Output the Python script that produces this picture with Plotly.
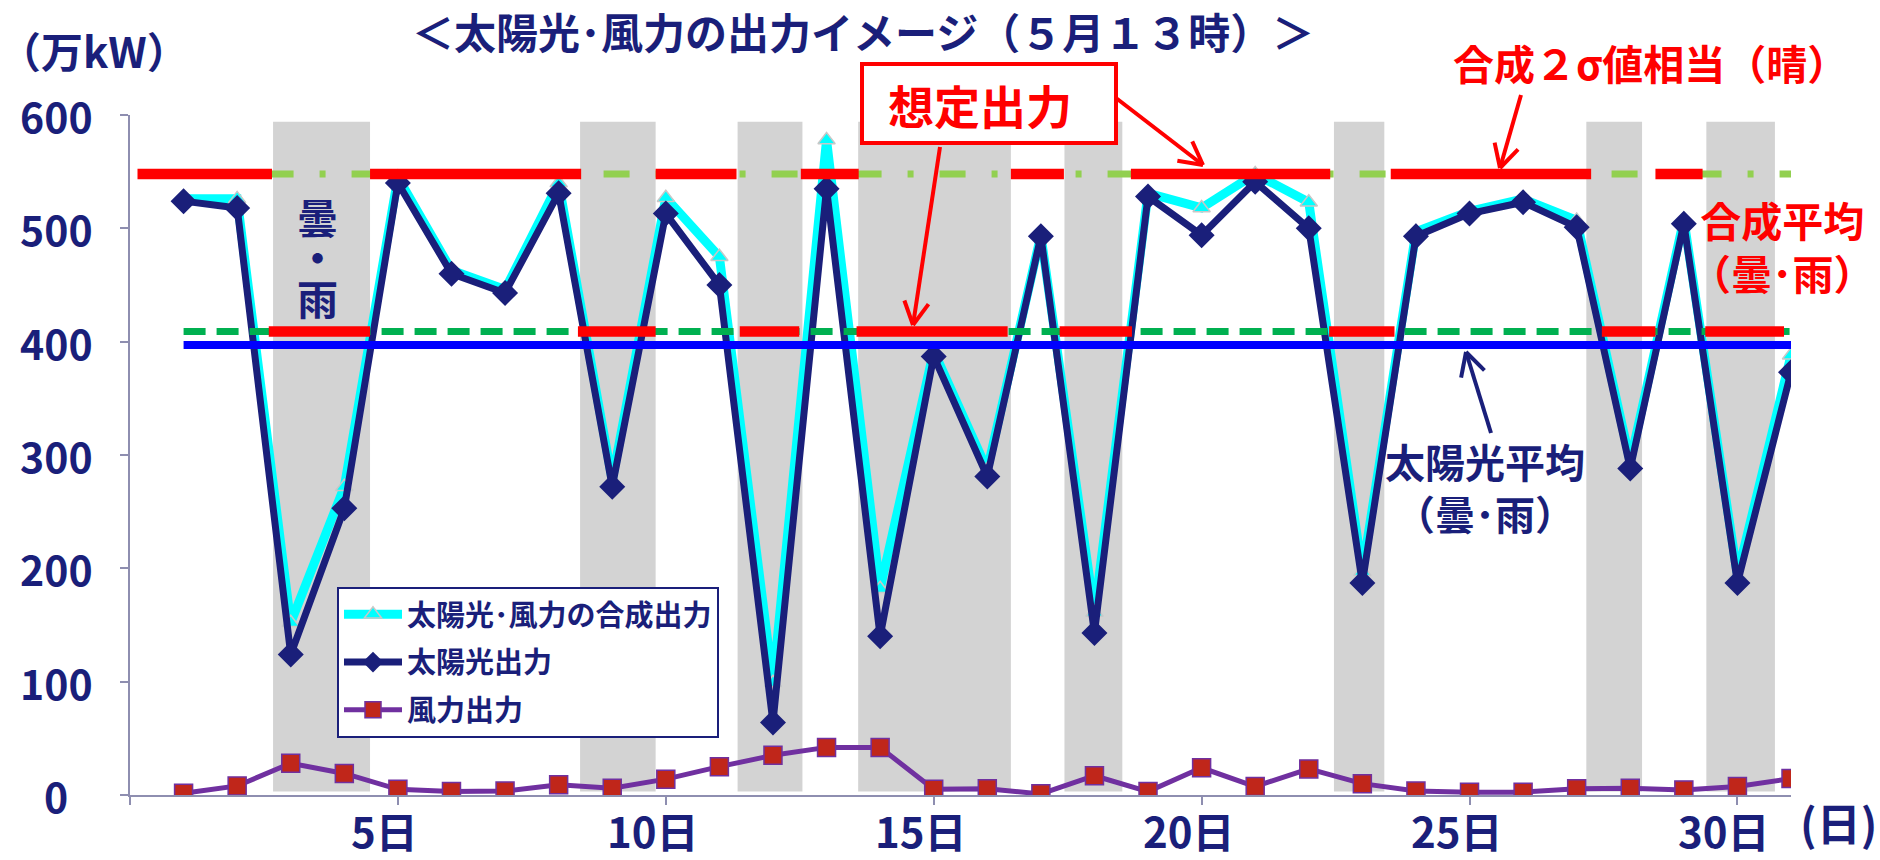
import math
import plotly.graph_objects as go

# ---- data (May, 13:00 output, 万kW) ----
days = list(range(1, 32))
solar = [524, 518, 124, 253, 540, 460, 443, 531, 272, 513, 450, 64, 535, 140, 387, 281,
         493, 143, 528, 494, 541, 500, 187, 493, 513, 523, 501, 288, 504, 187, 373]
wind = [1.5, 8, 28, 19, 5, 3, 3.5, 9, 6, 14, 25, 35, 42, 42, 5, 5.5,
        1, 17, 3, 24, 7.5, 23, 10, 3.5, 2.5, 2.5, 5.5, 6, 4.5, 7.5, 14.5]
combined = [526, 526, 152, 272, 545, 463, 446, 540, 278, 527, 475, 99, 578, 182, 392, 287,
            494, 161, 531, 518, 548, 523, 197, 497, 515, 526, 507, 294, 508, 194, 388]

# reference levels
combined_2sigma = 548      # 合成2σ値相当（晴）
combined_cloudy_avg = 409  # 合成平均（曇・雨）
solar_cloudy_avg = 397     # 太陽光平均（曇・雨）

# cloudy / rainy periods (day positions)
cloudy_bands = [(2.67, 4.48), (8.40, 9.81), (11.34, 12.55), (13.59, 16.44),
                (17.44, 18.52), (22.47, 23.41), (27.18, 28.22), (29.42, 30.70)]
# assumed output: 2σ level on clear spans, cloudy average on cloudy spans
clear_spans = [(0.14, 2.65), (4.48, 8.42), (9.81, 11.32), (12.52, 13.60),
               (16.44, 17.43), (18.68, 22.40), (23.53, 27.27), (28.47, 29.35)]
cloudy_spans = [(2.59, 4.48), (8.36, 9.81), (11.38, 12.49), (13.56, 16.38),
                (17.35, 18.70), (22.38, 23.60), (27.47, 28.47), (29.40, 30.87)]

xtick_vals = [0, 5, 10, 15, 20, 25, 30]
xtick_text = ["", "5日", "10日", "15日", "20日", "25日", "30日"]
ytick_vals = [0, 100, 200, 300, 400, 500, 600]

# ---- styling ----
NAVY = "#1A1F7A"
RED = "#FF0000"
FONT = "Noto Sans CJK JP"
W, H = 1880, 860
L, R, T, B = 130, 89, 115, 65
PW, PH = W - L - R, H - T - B


def px(x):
    return (x - L) / PW


def py(y):
    return (T + PH - y) / PH


def seg_xy(spans, level):
    xs, ys = [], []
    for a, b in spans:
        xs += [a, b, None]
        ys += [level, level, None]
    return xs, ys


fig = go.Figure()

# series
fig.add_trace(go.Scatter(
    x=days, y=wind, mode="lines+markers", name="<b>風力出力</b>",
    line=dict(color="#7030A0", width=5),
    marker=dict(symbol="square", size=18, color="#C0261A", line=dict(color="#7030A0", width=1.5)),
    legendgroup="c", legendrank=3))
fig.add_trace(go.Scatter(
    x=days, y=combined, mode="lines+markers", name="<b>太陽光･風力の合成出力</b>",
    line=dict(color="#00FFFF", width=9),
    marker=dict(symbol="triangle-up", size=15, color="#00FFFF", line=dict(color="#C8C8C8", width=1.5)),
    legendgroup="a", legendrank=1))
fig.add_trace(go.Scatter(
    x=days, y=solar, mode="lines+markers", name="<b>太陽光出力</b>",
    line=dict(color=NAVY, width=7),
    marker=dict(symbol="diamond", size=20, color=NAVY),
    legendgroup="b", legendrank=2))

# reference lines
fig.add_trace(go.Scatter(
    x=[days[0], days[-1]], y=[combined_2sigma] * 2, mode="lines", showlegend=False,
    line=dict(color="#92D050", width=7, dash="26px,26px,6px,26px"), hoverinfo="skip"))
fig.add_trace(go.Scatter(
    x=[days[0], days[-1]], y=[combined_cloudy_avg] * 2, mode="lines", showlegend=False,
    line=dict(color="#00B050", width=7, dash="22px,11px"), hoverinfo="skip"))
fig.add_trace(go.Scatter(
    x=[days[0], days[-1]], y=[solar_cloudy_avg] * 2, mode="lines", showlegend=False,
    line=dict(color="#0000FF", width=8), hoverinfo="skip"))
for spans, level in ((clear_spans, combined_2sigma), (cloudy_spans, combined_cloudy_avg)):
    sx, sy = seg_xy(spans, level)
    fig.add_trace(go.Scatter(x=sx, y=sy, mode="lines", showlegend=False,
                             line=dict(color=RED, width=10.5), hoverinfo="skip"))

shapes = []
for a, b in cloudy_bands:
    shapes.append(dict(type="rect", xref="x", yref="y", x0=a, x1=b, y0=3, y1=594,
                       fillcolor="#D3D3D3", line=dict(width=0), layer="below"))


def arrow(x0, y0, x1, y1, color, width=4, head=26, ang=28):
    out = [dict(type="line", xref="paper", yref="paper",
                x0=px(x0), y0=py(y0), x1=px(x1), y1=py(y1),
                line=dict(color=color, width=width))]
    dx, dy = x0 - x1, y0 - y1
    n = math.hypot(dx, dy)
    ux, uy = dx / n, dy / n
    for s in (1, -1):
        a = math.radians(ang * s)
        bx = ux * math.cos(a) - uy * math.sin(a)
        by = ux * math.sin(a) + uy * math.cos(a)
        out.append(dict(type="line", xref="paper", yref="paper",
                        x0=px(x1), y0=py(y1), x1=px(x1 + head * bx), y1=py(y1 + head * by),
                        line=dict(color=color, width=width)))
    return out


# box around 想定出力
shapes.append(dict(type="rect", xref="paper", yref="paper",
                   x0=px(862), x1=px(1116), y0=py(143), y1=py(64),
                   fillcolor="white", line=dict(color=RED, width=4)))
shapes += arrow(940, 147, 913, 325, RED)
shapes += arrow(1116, 98, 1203, 165, RED)
shapes += arrow(1521, 95, 1500, 168, RED)
shapes += arrow(1491, 433, 1466, 352, NAVY)

ann = []


def text(x, y, s, size, color=NAVY):
    ann.append(dict(x=px(x), y=py(y), xref="paper", yref="paper", text="<b>" + s + "</b>",
                    showarrow=False, xanchor="center", yanchor="middle", align="center",
                    font=dict(family=FONT, size=size, color=color)))


text(863, 30, "＜太陽光･風力の出力イメージ（５月１３時）＞", 42)
text(94, 50, "（万kW）", 42)
# stacked label inside the first cloudy band (tight line pitch, larger glyphs)
text(317, 256, '<span style="font-size:41px">曇</span><br>'
               '<span style="font-size:41px">・</span><br>'
               '<span style="font-size:41px">雨</span>', 31)
text(980, 104, "想定出力", 46, RED)
text(1650, 62, "合成２σ値相当（晴）", 41, RED)
text(1782, 245, "合成平均<br>（曇･雨）", 41, RED)
text(1485, 487, "太陽光平均<br>（曇･雨）", 40)
text(1838, 822, "(日)", 44)

for v in ytick_vals:
    ann.append(dict(x=px(56), xref="paper", y=v, yref="y", text="<b>%d</b>" % v,
                    showarrow=False, xanchor="center", yanchor="middle",
                    font=dict(family=FONT, size=41, color=NAVY)))
for d, t in zip(xtick_vals, xtick_text):
    if t:
        ann.append(dict(x=d, xref="x", y=py(829), yref="paper", text="<b>" + t + "</b>",
                        showarrow=False, xanchor="center", yanchor="middle", xshift=-13,
                        font=dict(family=FONT, size=42, color=NAVY)))

axis_col = "#8E8EB0"
fig.update_layout(
    width=W, height=H,
    margin=dict(l=L, r=R, t=T, b=B, pad=0),
    paper_bgcolor="white", plot_bgcolor="white",
    font=dict(family=FONT, color=NAVY),
    xaxis=dict(range=[0, 31], showgrid=False, zeroline=False, showline=True,
               linecolor=axis_col, linewidth=2, ticks="outside", ticklen=8,
               tickcolor=axis_col, tickwidth=2, tickvals=xtick_vals, showticklabels=False),
    yaxis=dict(range=[0, 600], showgrid=False, zeroline=False, showline=True,
               linecolor=axis_col, linewidth=2, ticks="outside", ticklen=8,
               tickcolor=axis_col, tickwidth=2, tickvals=ytick_vals, showticklabels=False),
    legend=dict(x=px(337), y=py(587), xanchor="left", yanchor="top",
                bgcolor="white", bordercolor=NAVY, borderwidth=2,
                font=dict(family=FONT, size=29, color=NAVY),
                itemwidth=58, traceorder="grouped", tracegroupgap=7),
    shapes=shapes, annotations=ann, showlegend=True,
)

fig.write_html("out.html")
